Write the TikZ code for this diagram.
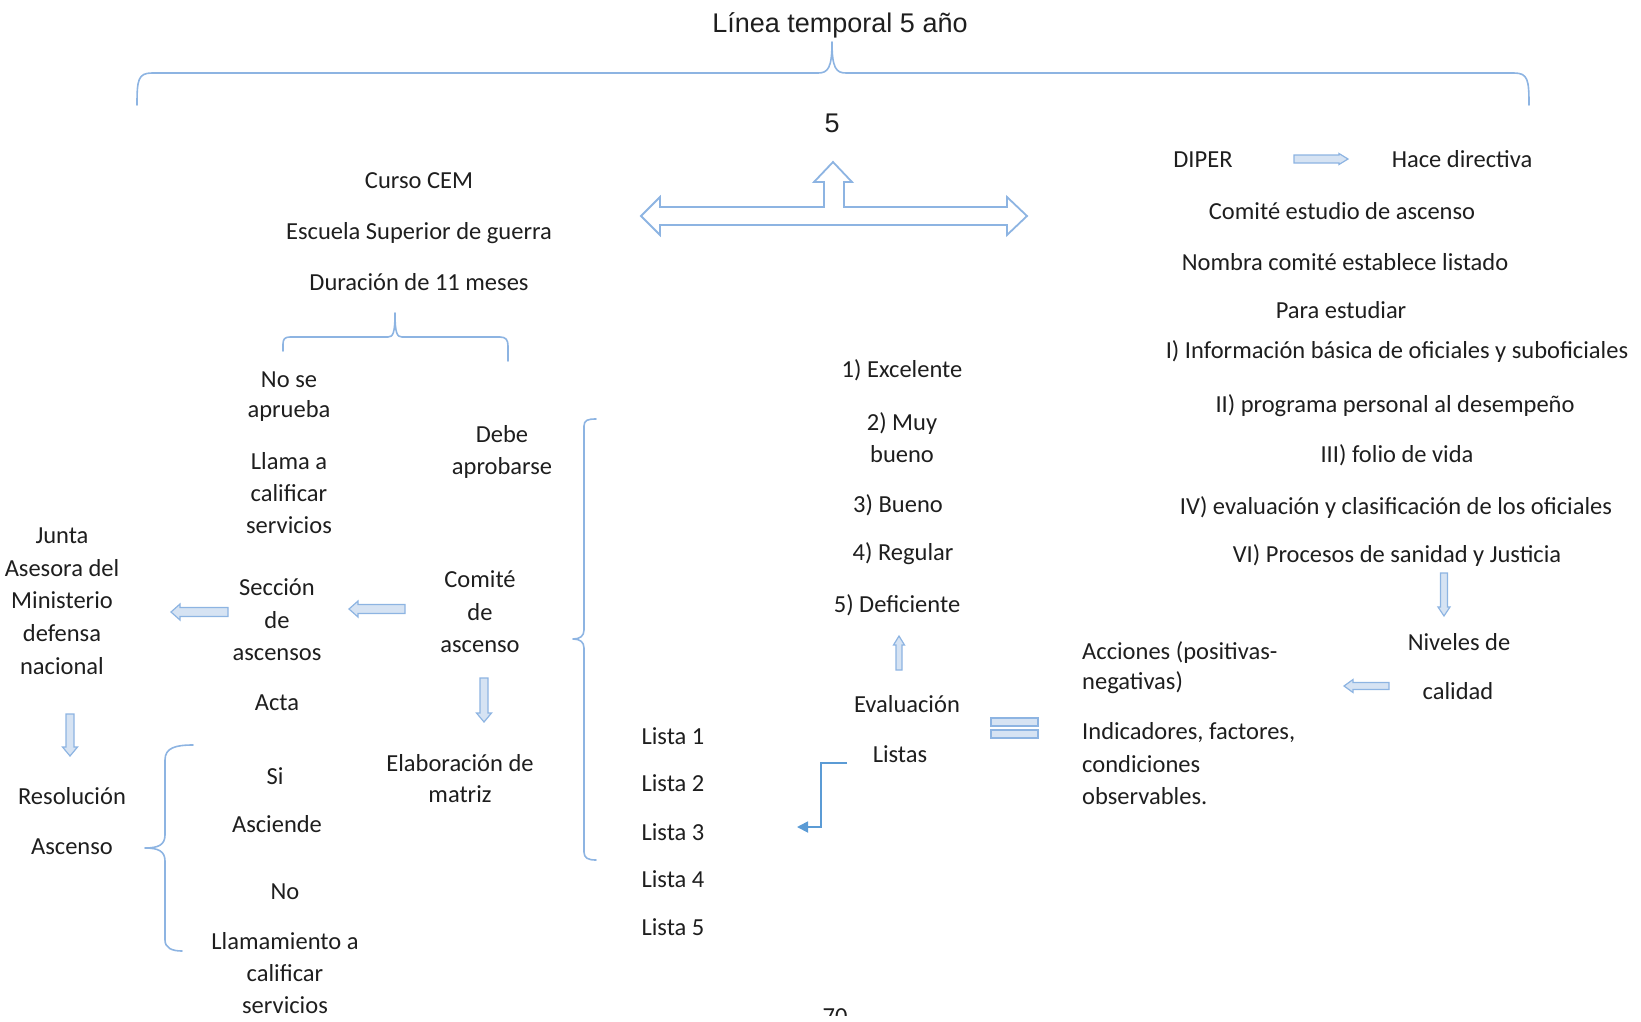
\documentclass[tikz,border=0pt]{standalone}
\usepackage{fontspec}
\setmainfont{Carlito}
\newfontfamily\arialf{Liberation Sans}
\usetikzlibrary{arrows.meta}
\definecolor{txt}{HTML}{1E1E1E}
\definecolor{brk}{HTML}{8DB4E2}
\definecolor{arrline}{HTML}{8DB4E2}
\definecolor{arrfill}{HTML}{D6E3F3}
\definecolor{lconn}{HTML}{5B9BD5}

% multi-line labels are placed by the baseline of their last line
\tikzset{
  lbl/.style={font=\fontsize{24.5}{#1}\selectfont, text=txt, inner sep=0pt,
              anchor=base, align=center},
  lbl/.default=32,
  lblleft/.style={lbl=#1, anchor=base west, align=left},
  lblleft/.default=32,
  brace/.style={draw=brk, line width=1.6pt, line cap=round, line join=round},
  arrbox/.style={draw=arrline, fill=arrfill, line width=1.2pt, line join=miter},
  bigarrow/.style={draw=arrline, line width=1.8pt, line join=miter, fill=white},
  conn/.style={draw=lconn, line width=1.8pt, -{Triangle[length=11pt,width=11pt]}},
  % block arrow pointing along +x: length / half shaft / half head
  pics/flecha/.style args={#1/#2/#3}{code={
    \draw[arrbox] (-#1/2,-#2) -- (#1/2-9,-#2) -- (#1/2-9,-#3) -- (#1/2,0)
      -- (#1/2-9,#3) -- (#1/2-9,#2) -- (-#1/2,#2) -- cycle;
  }},
}

\begin{document}
\begin{tikzpicture}[x=1pt,y=-1pt]
\useasboundingbox (0,0) rectangle (1641,1021);

% title and overall brace
\node[font=\arialf\fontsize{27}{32}\selectfont, text=txt, inner sep=0pt, anchor=base] (title) at (840,32) {Línea temporal 5 año};
\draw[brace] (137,105) .. controls (137,80) and (138,73) .. (152,73) -- (818,73)
  .. controls (828,73) and (832,68) .. (832,42)
  .. controls (832,68) and (836,73) .. (846,73) -- (1514,73)
  .. controls (1528,73) and (1529,80) .. (1529,105);
\node[font=\arialf\fontsize{27}{32}\selectfont, text=txt, inner sep=0pt, anchor=base] (five) at (832,132) {5};

% three-way block arrow
\draw[bigarrow] (641,216) -- (660,197) -- (660,207) -- (824,207) -- (824,182) -- (814,182)
  -- (833,162) -- (852,182) -- (844,182) -- (844,207) -- (1007,207) -- (1007,197)
  -- (1027,216) -- (1007,235) -- (1007,225) -- (660,225) -- (660,235) -- cycle;

% left branch: course
\node[lbl] (curso) at (419,188.5) {Curso CEM};
\node[lbl] (escuela) at (419,239.5) {Escuela Superior de guerra};
\node[lbl] (duracion) at (419,290.5) {Duración de 11 meses};
\draw[brace] (283,351) -- (283,344) .. controls (283,339) and (285,337) .. (290,337) -- (388,337)
  .. controls (393,337) and (395,333) .. (395,313)
  .. controls (395,333) and (397,337) .. (402,337) -- (500,337)
  .. controls (506,337) and (508,340) .. (508,346) -- (508,361);

\node[lbl=30] (nose) at (289,417.5) {No se\\aprueba};
\node[lbl] (llama) at (289,533.5) {Llama a\\calificar\\servicios};
\node[lbl] (debe) at (502,474.5) {Debe\\aprobarse};

\node[lbl=32.7] (junta) at (62,674.3) {Junta\\Asesora del\\Ministerio\\defensa\\nacional};
\node[lbl=32.5] (seccion) at (277,660.5) {Sección\\de\\ascensos};
\node[lbl] (acta) at (277,710.5) {Acta};
\node[lbl=32.5] (comite) at (480,652.5) {Comité\\de\\ascenso};
\node[lbl=31] (elab) at (460,802.5) {Elaboración de\\matriz};

\pic[rotate=180] (aseccjunta) at (199.5,612) {flecha=57/4.5/8};
\pic[rotate=180] (acomsecc) at (377,609) {flecha=56/4.5/8};
\pic[rotate=-90] (acomelab) at (484,700) {flecha=44/4/7.5};
\pic[rotate=-90] (ajuntares) at (70,735) {flecha=42/4/7.5};

\node[lbl] (resol) at (72,804.5) {Resolución};
\node[lbl] (ascenso) at (72,854.5) {Ascenso};
\draw[brace] (193,745) .. controls (175,745) and (165,748) .. (165,760) -- (165,835)
  .. controls (165,845) and (158,848) .. (145,848)
  .. controls (158,848) and (165,851) .. (165,861) -- (165,940)
  .. controls (165,948) and (172,951) .. (182,951);
\node[lbl] (si) at (275,784.5) {Si};
\node[lbl] (asciende) at (277,832.5) {Asciende};
\node[lbl] (no) at (285,899.5) {No};
\node[lbl] (llamamiento) at (285,1013.5) {Llamamiento a\\calificar\\servicios};

% bracket gathering the lists
\draw[brace] (596,419) .. controls (588,419) and (584,420) .. (584,426) -- (584,630)
  .. controls (584,636) and (580,639) .. (573,639)
  .. controls (580,639) and (584,642) .. (584,648) -- (584,852)
  .. controls (584,858) and (588,860) .. (596,860);
\node[lbl] (lista1) at (673,744.5) {Lista 1};
\node[lbl] (lista2) at (673,791.5) {Lista 2};
\node[lbl] (lista3) at (673,840.5) {Lista 3};
\node[lbl] (lista4) at (673,887.5) {Lista 4};
\node[lbl] (lista5) at (673,935.5) {Lista 5};

% evaluation scale
\node[lbl] (r1) at (902,377.5) {1) Excelente};
\node[lbl] (r2) at (902,462.5) {2) Muy\\bueno};
\node[lbl] (r3) at (898,512.5) {3) Bueno};
\node[lbl] (r4) at (903,560.5) {4) Regular};
\node[lbl] (r5) at (897,612.5) {5) Deficiente};
\pic[rotate=90] (aevalr5) at (899,653) {flecha=34/3/5.5};
\node[lbl] (evaluacion) at (907,712.5) {Evaluación};
\node[lbl] (listas) at (900,762.5) {Listas};
\coordinate (lstart) at (847,763);
\coordinate (lend) at (797,827);
\draw[conn] (lstart) -- ++(-26,0) |- (lend);

% equivalence mark
\draw[arrbox] (991,718) rectangle (1038,726);
\draw[arrbox] (991,730) rectangle (1038,738);

% right branch
\node[lbl] (diper) at (1203,167.5) {DIPER};
\pic (adiper) at (1321,159) {flecha=54/4/5.5};
\node[lbl] (hace) at (1462,167.5) {Hace directiva};
\node[lbl] (comiteest) at (1342,219.5) {Comité estudio de ascenso};
\node[lbl] (nombra) at (1345,270.5) {Nombra comité establece listado};
\node[lbl] (para) at (1341,318.5) {Para estudiar};
\node[lbl] (info) at (1397,358.5) {I) Información básica de oficiales y suboficiales};
\node[lbl] (prog) at (1395,412.5) {II) programa personal al desempeño};
\node[lbl] (folio) at (1397,462.5) {III) folio de vida};
\node[lbl] (evalc) at (1396,514.5) {IV) evaluación y clasificación de los oficiales};
\node[lbl] (procesos) at (1397,562.5) {VI) Procesos de sanidad y Justicia};
\pic[rotate=-90] (aprocniv) at (1444,594.5) {flecha=43/3.5/6};
\node[lbl] (niveles) at (1459,650.5) {Niveles de};
\node[lbl] (calidad) at (1458,699.5) {calidad};
\pic[rotate=180] (anivacc) at (1366.5,686) {flecha=45/3.5/6.5};
\node[lblleft=30] (acciones) at (1082,689.5) {Acciones (positivas-\\negativas)};
\node[lblleft=32.5] (indicadores) at (1082,804.5) {Indicadores, factores,\\condiciones\\observables.};

% page number, cut by the lower edge
\begin{scope}
  \clip (780,990) rectangle (900,1015);
  \node[lbl] (pagina) at (835,1024) {70};
\end{scope}
\end{tikzpicture}
\end{document}
